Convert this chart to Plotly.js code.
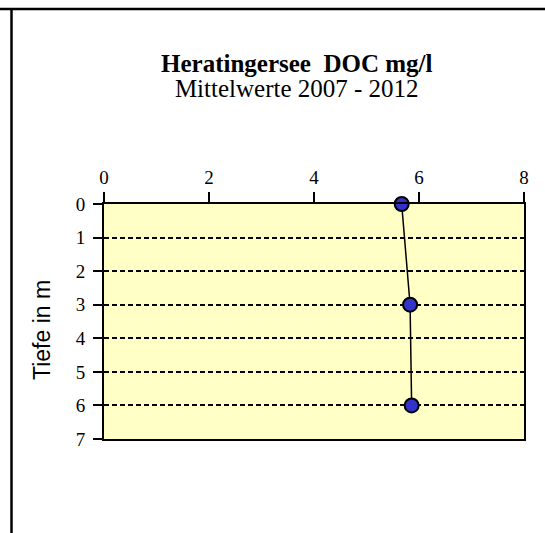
<!DOCTYPE html>
<html>
<head>
<meta charset="utf-8">
<script src="https://cdn.plot.ly/plotly-3.0.1.min.js"></script>
<style>
html,body{margin:0;padding:0;background:#fff;}
#chart{width:545px;height:533px;}
</style>
</head>
<body>
<div id="chart"></div>
<script>
const depth = [0, 3, 6];
const doc = [5.67, 5.83, 5.86];
const xTicks = [0, 2, 4, 6, 8];
const yTicks = [0, 1, 2, 3, 4, 5, 6, 7];
const titleMain = "Heratingersee  DOC mg/l";
const titleSub = "Mittelwerte 2007 - 2012";
const yTitle = "Tiefe in m";

const serif = "Liberation Serif, Times New Roman, serif";
const sans = "Liberation Sans, Arial, sans-serif";

const trace = {
  x: doc, y: depth, type: "scatter", mode: "lines+markers",
  line: {color: "#000", width: 1.5},
  marker: {size: 14, color: "#3333CC", line: {color: "#000", width: 2}},
  cliponaxis: false, hoverinfo: "x+y"
};

const W = 545, H = 533, L = 104, R = 21, T = 204, B = 94;
const pw = W - L - R, ph = H - T - B;
const px = v => (v - L) / pw;
const py = v => (H - B - v) / ph;

const titleText = "<span style='font-size:25px'><b>" + titleMain + "</b></span><br>" +
                  "<span style='font-size:25px'>" + titleSub + "</span>";

const layout = {
  width: W, height: H,
  margin: {l: L, r: R, t: T, b: B, pad: 0},
  paper_bgcolor: "#fff", plot_bgcolor: "#FFFFC6",
  showlegend: false,
  font: {family: serif, color: "#000", size: 19},
  xaxis: {
    side: "top", range: [0, 8], tickvals: xTicks, ticktext: xTicks.map(String),
    showgrid: false, zeroline: false, showline: true, mirror: true,
    linecolor: "#000", linewidth: 2, ticks: "outside", ticklen: 10, tickwidth: 2, tickcolor: "#000",
    tickfont: {family: serif, size: 19, color: "#000"}, fixedrange: true
  },
  yaxis: {
    range: [7, 0], tickvals: yTicks, ticktext: yTicks.map(String),
    showgrid: true, gridcolor: "#000", gridwidth: 2, griddash: "5px,3px",
    zeroline: false, showline: true, mirror: true,
    linecolor: "#000", linewidth: 2, ticks: "outside", ticklen: 9, tickwidth: 2, tickcolor: "#000",
    ticklabelstandoff: 4,
    tickfont: {family: serif, size: 19, color: "#000"},
    fixedrange: true
  },
  annotations: [
    {text: titleText, xref: "paper", yref: "paper", x: px(297), y: py(76),
     xanchor: "center", yanchor: "middle", align: "center", showarrow: false,
     font: {family: serif, size: 19.3, color: "#000"}},
    {text: yTitle, xref: "paper", yref: "paper", x: px(42), y: py(330), textangle: -90,
     xanchor: "center", yanchor: "middle", showarrow: false, font: {family: sans, size: 23, color: "#000"}}
  ],
  shapes: [
    {type: "line", xref: "paper", yref: "paper", x0: px(0), x1: px(W), y0: py(9), y1: py(9), line: {color: "#000", width: 2.5}},
    {type: "line", xref: "paper", yref: "paper", x0: px(11.5), x1: px(11.5), y0: py(9), y1: py(H), line: {color: "#000", width: 2.5}}
  ]
};

Plotly.newPlot("chart", [trace], layout, {displayModeBar: false, staticPlot: true});
</script>
</body>
</html>
